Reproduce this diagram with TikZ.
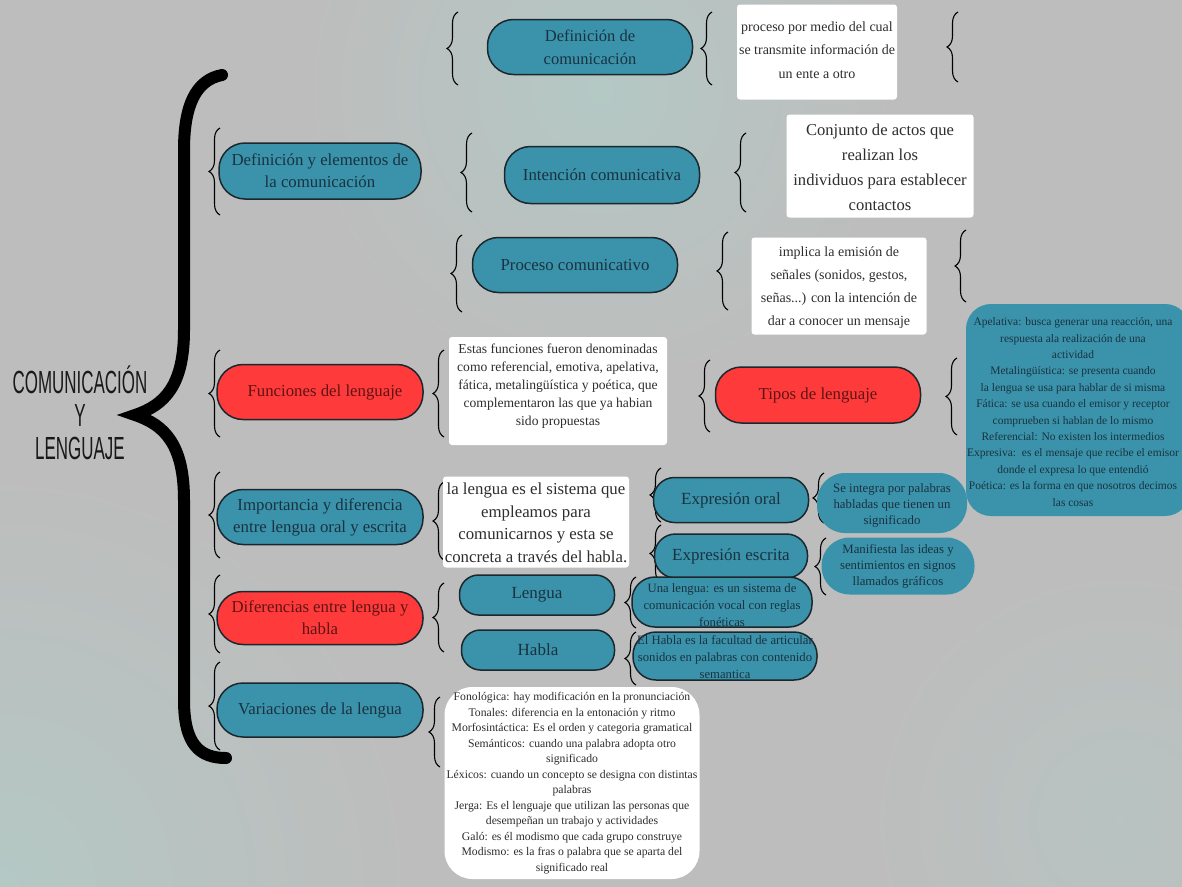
\documentclass[tikz,border=0pt]{standalone}
\usepackage{fontspec}
\setmainfont{Liberation Serif}
\newfontfamily\titlefont[FakeStretch=0.53]{Liberation Sans}
\usetikzlibrary{decorations.pathreplacing}

\definecolor{fondo}{HTML}{BDBDBD}
\definecolor{fondoazul}{HTML}{B4C8C4}
\definecolor{tealc}{HTML}{3A93AB}
\definecolor{rojoc}{HTML}{FF3A3A}
\definecolor{borde}{HTML}{1C272D}
\definecolor{tealtxt}{HTML}{1A3240}
\definecolor{rojotxt}{HTML}{5E1414}
\definecolor{cardtxt}{HTML}{2E2E2E}
\newcommand{\tam}[2]{\fontsize{#1}{#2}\selectfont}

\begin{document}
\begin{tikzpicture}[x=1pt,y=-1pt,
 pill/.style={draw=borde,line width=1.5pt,rounded corners=26pt,inner sep=0pt,align=center},
 teal/.style={pill,fill=tealc,text=tealtxt},
 rojo/.style={pill,fill=rojoc,text=rojotxt},
 card/.style={fill=white,rounded corners=3pt,inner sep=0pt,align=center,text=cardtxt},
 nota/.style={fill=tealc,rounded corners=28pt,inner sep=0pt,align=center,text=tealtxt},
 txt/.style={align=center,inner sep=0pt,text=tealtxt},
 llave/.style={decorate,decoration={brace,amplitude=11pt},line width=1.1pt,black},
 titulo/.style={align=center,text=black!90,font=\titlefont\tam{32}{33}}]
\useasboundingbox (0,0) rectangle (1182,886);
% background
\begin{scope}
 \clip (-6,-6) rectangle (1188,892);
 \fill[fondo] (-6,-6) rectangle (1188,892);
 \shade[inner color=fondoazul,outer color=fondo] (0,886) circle (420);
 \shade[inner color=fondoazul,outer color=fondo] (600,90) circle (300);
 \shade[inner color=fondoazul!60!fondo,outer color=fondo] (1120,820) circle (260);
\end{scope}

% main brace and title
\draw[line width=12pt,line cap=round] (222,75) .. controls (196,80) and (184,105) .. (184,150) -- (184,330)
 .. controls (184,385) and (165,405) .. (135,415) .. controls (165,425) and (184,445) .. (184,500)
 -- (184,700) .. controls (184,745) and (200,758) .. (226,758);
\node[titulo] (titulo) at (80,413) {COMUNICACIÓN\\Y\\LENGUAJE};

% small braces
\foreach \x/\a/\b in {458/12/85,712/12/85,958/12/82,
 220/128/215,472/133/212,746/133/212,
 462/235/312,728/232/310,966/230/302,
 220/350/437,444/350/437,710/360/432,957/358/435,
 220/472/558,444/482/560,661/468/522,824/473/523,661/525/582,826/538/595,
 220/575/653,444/583/652,636/577/628,636/632/685,
 220/662/750,440/697/767}
 \draw[llave] (\x,\b) -- (\x,\a);

% first level
\node[teal,minimum width=202,minimum height=56,font=\tam{16.8}{22}] (defelem) at (320,171) {Definición y elementos de\\la comunicación};
\node[rojo,minimum width=206,minimum height=55,font=\tam{16.8}{22}] (funciones) at (320,392) {\hspace{10pt}Funciones del lenguaje};
\node[teal,minimum width=206,minimum height=55,font=\tam{16.8}{22}] (importancia) at (320,517) {Importancia y diferencia\\entre lengua oral y escrita};
\node[rojo,minimum width=206,minimum height=53,font=\tam{16.8}{22}] (diferencias) at (320,618) {Diferencias entre lengua y\\habla};
\node[teal,minimum width=206,minimum height=54,font=\tam{16.8}{22}] (variaciones) at (320,710) {Variaciones de la lengua};

% second level
\node[teal,minimum width=205,minimum height=55,font=\tam{16.5}{23}] (defcom) at (590,47) {Definición de\\comunicación};
\node[teal,minimum width=195,minimum height=57,font=\tam{16.8}{22}] (intencion) at (602,175) {Intención comunicativa};
\node[teal,minimum width=205,minimum height=55,font=\tam{16.8}{22}] (proceso) at (575,265) {Proceso comunicativo};
\node[card,minimum width=218,minimum height=108] (funcdef) at (558,391) {};
\node[txt,text=cardtxt,font=\tam{13.6}{18}] at (558,386)
 {Estas funciones fueron denominadas\\como referencial, emotiva, apelativa,\\fática, metalingüística y poética, que\\complementaron las que ya habian\\sido propuestas};
\node[rojo,minimum width=205,minimum height=56,font=\tam{16.8}{22}] (tipos) at (818,395) {Tipos de lenguaje};
\node[card,minimum width=186,minimum height=91] (lengdef) at (536,522) {};
\node[txt,text=cardtxt,font=\tam{16.8}{22.5}] at (536,523)
 {la lengua es el sistema que\\empleamos para\\comunicarnos y esta se\\concreta a través del habla.};
\node[teal,minimum width=155,minimum height=40,rounded corners=19pt,font=\tam{17}{20}] (lengua) at (537,595) {Lengua};
\node[teal,minimum width=153,minimum height=40,rounded corners=19pt,font=\tam{17}{20}] (habla) at (538,650) {Habla};
\node[card,minimum width=255,minimum height=192,rounded corners=28pt] (vardef) at (572,783) {};
\node[txt,text=cardtxt,font=\tam{11.7}{15.5}] at (572,783)
 {Fonológica: hay modificación en la pronunciación\\Tonales: diferencia en la entonación y ritmo\\Morfosintáctica: Es el orden y categoria gramatical\\Semánticos: cuando una palabra adopta otro\\significado\\Léxicos: cuando un concepto se designa con distintas\\palabras\\Jerga: Es el lenguaje que utilizan las personas que\\desempeñan un trabajo y actividades\\Galó: es él modismo que cada grupo construye\\Modismo: es la fras o palabra que se aparta del\\significado real};

% third level
\node[card,minimum width=160,minimum height=95] (procdef) at (817,52) {};
\node[txt,text=cardtxt,font=\tam{14}{23.5}] at (817,50)
 {proceso por medio del cual\\se transmite información de\\un ente a otro};
\node[card,minimum width=187,minimum height=103] (actos) at (880,166) {};
\node[txt,text=cardtxt,font=\tam{16.6}{25}] at (880,167)
 {Conjunto de actos que\\realizan los\\individuos para establecer\\contactos};
\node[card,minimum width=175,minimum height=97] (senales) at (839,286) {};
\node[txt,text=cardtxt,font=\tam{14}{23}] at (839,288)
 {implica la emisión de\\señales (sonidos, gestos,\\señas...) con la intención de\\dar a conocer un mensaje};
\node[teal,minimum width=155,minimum height=45,rounded corners=21pt,font=\tam{17}{20}] (oral) at (731,500) {Expresión oral};
\node[teal,minimum width=153,minimum height=44,rounded corners=21pt,font=\tam{17}{20}] (escrita) at (731,556) {Expresión escrita};
\node[teal,minimum width=180,minimum height=50,rounded corners=23pt] (unalen) at (722,602) {};
\node[txt,font=\tam{12.7}{17}] at (722,605) {Una lengua: es un sistema de\\comunicación vocal con reglas\\fonéticas};
\node[teal,minimum width=184,minimum height=48,rounded corners=23pt] (elhabla) at (725,656) {};
\node[txt,font=\tam{12.7}{17}] at (725,657) {El Habla es la facultad de articular\\sonidos en palabras con contenido\\semantica};

% fourth level
\node[nota,minimum width=150,minimum height=60] (oraldef) at (892,503) {};
\node[txt,font=\tam{12.8}{16}] at (892,505) {Se integra por palabras\\habladas que tienen un\\significado};
\node[nota,minimum width=153,minimum height=57] (escdef) at (898,566) {};
\node[txt,font=\tam{12.8}{16}] at (898,566) {Manifiesta las ideas y\\sentimientos en signos\\llamados gráficos};
\begin{scope}
 \clip (0,0) rectangle (1182,886);
 \node[nota,rounded corners=25pt,minimum width=224,minimum height=212] (tiposdef) at (1078,410) {};
 \node[txt,font=\tam{11.5}{16.4}] at (1073,412)
 {Apelativa: busca generar una reacción, una\\respuesta ala realización de una\\actividad\\Metalingüística: se presenta cuando\\la lengua se usa para hablar de si misma\\Fática: se usa cuando el emisor y receptor\\comprueben si hablan de lo mismo\\Referencial: No existen los intermedios\\Expresiva:\ \ es el mensaje que recibe el emisor\\donde el expresa lo que entendió\\Poética: es la forma en que nosotros decimos\\las cosas};
\end{scope}
\end{tikzpicture}
\end{document}
